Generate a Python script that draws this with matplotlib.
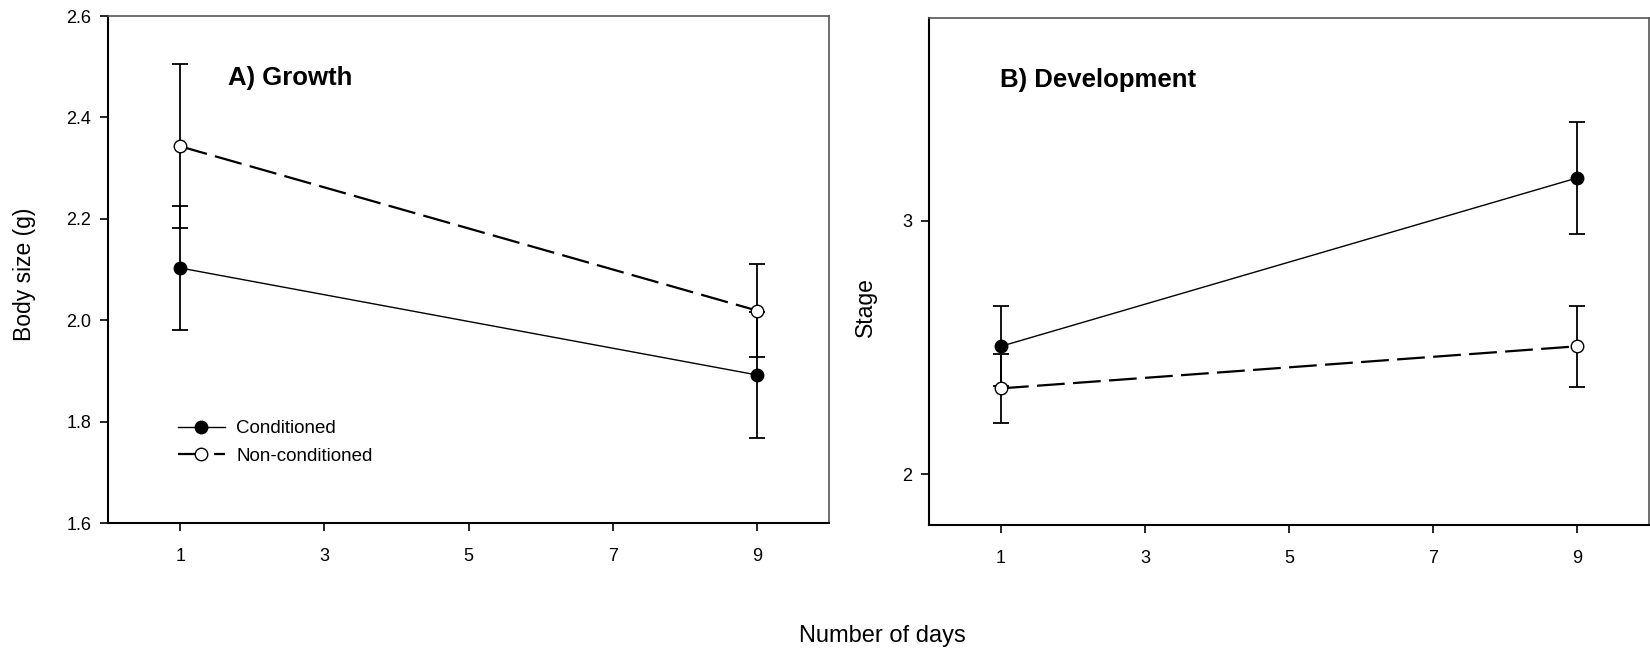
import numpy as np
import matplotlib
matplotlib.use("Agg")
import matplotlib.pyplot as plt
from matplotlib.lines import Line2D

plt.rcParams['font.family'] = ['Liberation Sans', 'DejaVu Sans']
plt.rcParams['lines.scale_dashes'] = False

# data
days = [1, 9]
growth_cond = [2.103, 1.892]
growth_cond_err = [0.122, 0.125]
growth_noncond = [2.343, 2.019]
growth_noncond_err = [0.162, 0.091]

stage_cond = [2.505, 3.169]
stage_cond_err = [0.157, 0.222]
stage_noncond = [2.339, 2.505]
stage_noncond_err = [0.135, 0.160]

xticks = [1, 3, 5, 7, 9]
dash = (20, 6)

fig = plt.figure(figsize=(16.5, 6.48), dpi=100)
ax1 = fig.add_axes([0.0655, 0.1929, 0.4370, 0.7824])
ax2 = fig.add_axes([0.5630, 0.1898, 0.4364, 0.7824])


def draw_panel(ax, cond, cond_err, noncond, noncond_err):
    ax.errorbar(days, cond, yerr=cond_err, fmt='none', ecolor='black',
                elinewidth=1.3, capsize=6, capthick=1.3, zorder=2)
    ax.errorbar(days, noncond, yerr=noncond_err, fmt='none', ecolor='black',
                elinewidth=1.3, capsize=6, capthick=1.3, zorder=2)
    ax.plot(days, cond, color='black', lw=1.0, marker='o', ms=9,
            mfc='black', mec='black', zorder=3)
    ax.plot(days, noncond, color='black', lw=1.6, dashes=dash, marker='o',
            ms=9, mfc='white', mec='black', mew=1.0, zorder=3)
    ax.set_xlim(0, 10)
    ax.set_xticks(xticks)
    ax.tick_params(direction='out', length=6, width=1.2, labelsize=13)
    ax.tick_params(axis='x', pad=12)
    ax.tick_params(axis='y', pad=6)
    for s in ['left', 'bottom']:
        ax.spines[s].set_linewidth(1.5)
        ax.spines[s].set_color('black')
    for s in ['top', 'right']:
        ax.spines[s].set_linewidth(1.2)
        ax.spines[s].set_color('#555555')


draw_panel(ax1, growth_cond, growth_cond_err, growth_noncond, growth_noncond_err)
ax1.set_ylim(1.6, 2.6)
ax1.set_yticks(np.arange(1.6, 2.61, 0.2))
ax1.set_yticklabels(['1.6', '1.8', '2.0', '2.2', '2.4', '2.6'])
ax1.set_ylabel('Body size (g)', fontsize=16.5)
ax1.yaxis.set_label_coords(-0.10, 0.49)
ax1.text(0.166, 0.878, 'A) Growth', transform=ax1.transAxes, fontsize=18.5,
         fontweight='bold', va='center', ha='left')

handles = [
    Line2D([], [], color='black', lw=1.0, marker='o', ms=9, mfc='black', mec='black'),
    Line2D([], [], color='black', lw=1.6, dashes=dash, marker='o', ms=9,
           mfc='white', mec='black'),
]
ax1.legend(handles, ['Conditioned', 'Non-conditioned'], loc='upper left',
           bbox_to_anchor=(0.097, 0.203), frameon=False, fontsize=13.5,
           borderpad=0, borderaxespad=0, handlelength=2.5, handletextpad=0.6,
           labelspacing=0.56)

draw_panel(ax2, stage_cond, stage_cond_err, stage_noncond, stage_noncond_err)
ax2.set_ylim(1.8, 3.8)
ax2.set_yticks([2, 3])
ax2.set_ylabel('Stage', fontsize=16.5)
ax2.yaxis.set_label_coords(-0.072, 0.43)
ax2.text(0.0986, 0.878, 'B) Development', transform=ax2.transAxes, fontsize=18.5,
         fontweight='bold', va='center', ha='left')

fig.text(0.535, 0.0185, 'Number of days', fontsize=17, ha='center', va='center')

fig.savefig('out.png', dpi=100)
